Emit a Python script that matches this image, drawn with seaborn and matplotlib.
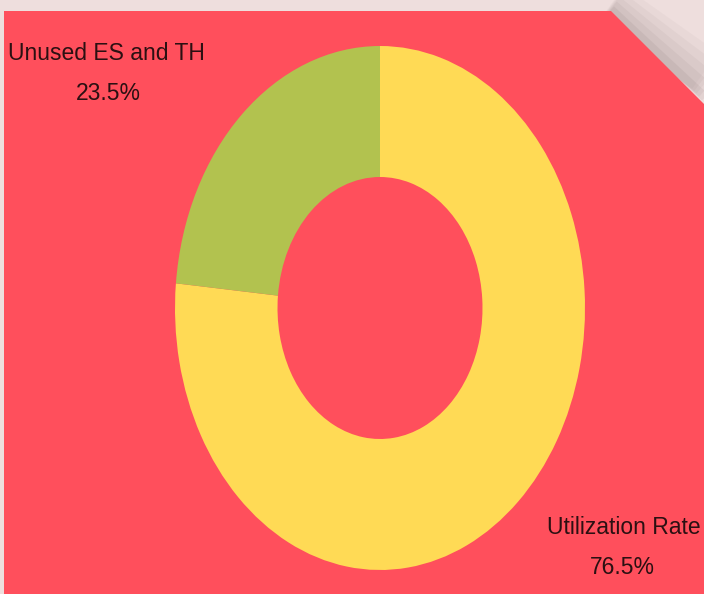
import matplotlib.pyplot as plt
import matplotlib.patches as mpatches
import seaborn as sns

labels = ['Utilization Rate', 'Unused ES and TH']
shares = [76.5, 23.5]
colors = ['#FFDA55', '#B2C24F']

sns.set_theme(style="white")
plt.rcParams['font.family'] = ['Liberation Sans', 'DejaVu Sans']

fig = plt.figure(figsize=(7.04, 5.94), dpi=100)
fig.patch.set_facecolor('#EEDEDD')

W, H = 704, 594


def fpt(x, y):
    return (x / W, 1 - y / H)


# soft shadow behind the folded corner
for i, a in enumerate([0.04, 0.05, 0.06, 0.07, 0.09]):
    off = 20 - i * 4
    shadow = mpatches.Polygon([fpt(611, 11 - off / 3), fpt(704 + off, 104 - off)],
                              closed=False, fill=False, transform=fig.transFigure,
                              edgecolor='#6E5A5C', linewidth=off * 1.6, alpha=a, zorder=0)
    fig.patches.append(shadow)

panel = mpatches.Polygon([fpt(4, 11), fpt(611, 11), fpt(704, 104), fpt(704, 594), fpt(4, 594)],
                         closed=True, transform=fig.transFigure,
                         facecolor='#FF4F5C', edgecolor='none', zorder=0.5)
fig.patches.append(panel)

ax = fig.add_axes([0, 0, 1, 1])
ax.set_zorder(2)
ax.set_facecolor('none')
ax.pie(shares, colors=colors, startangle=90, counterclock=False,
       wedgeprops=dict(width=0.5, edgecolor='none'))
ax.set_aspect('auto')

cx, cy, rx, ry = 380, 308, 205, 262
ax.set_xlim((0 - cx) / rx, (W - cx) / rx)
ax.set_ylim((cy - H) / ry, (cy - 0) / ry)
ax.axis('off')


def dpt(x, y):
    return ((x - cx) / rx, (cy - y) / ry)


txt = dict(ha='center', va='center', fontsize=16.5, color='#2B1012')
ax.text(*dpt(106, 53), labels[1], **txt)
ax.text(*dpt(108, 93), f'{shares[1]}%', **txt)
ax.text(*dpt(624, 528), labels[0], **txt)
ax.text(*dpt(622, 567), f'{shares[0]}%', **txt)

fig.savefig('out.png', dpi=100, facecolor=fig.get_facecolor())
